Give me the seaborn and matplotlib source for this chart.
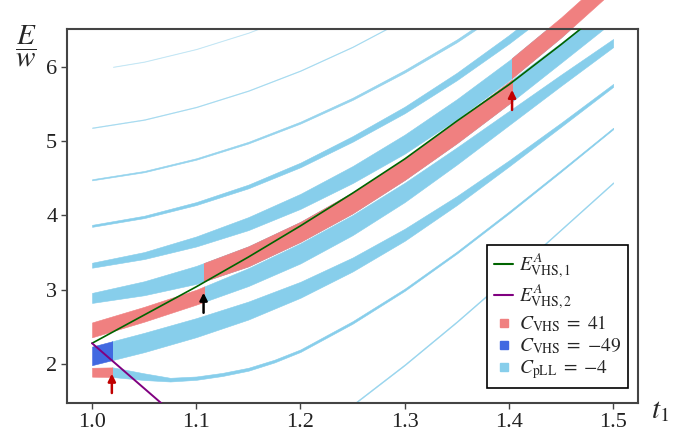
import numpy as np
import matplotlib
matplotlib.use("Agg")
import matplotlib.pyplot as plt
from matplotlib.patches import Rectangle
from matplotlib.lines import Line2D
import seaborn as sns

# ---- data (E/w against t1) ----
t_grid = [1.00, 1.05, 1.10, 1.15, 1.20, 1.25, 1.30, 1.35, 1.40, 1.45, 1.50]

# band centres and widths, top family first
top_t = [1.02, 1.05, 1.10, 1.15, 1.20]
top_c = [6.00, 6.07, 6.24, 6.46, 6.73]

a_c = [5.18, 5.29, 5.46, 5.68, 5.95, 6.27, 6.64]
b_c = [4.48, 4.59, 4.76, 4.98, 5.25, 5.57, 5.94, 6.35, 6.82]
b_w = [0.016, 0.018, 0.020, 0.023, 0.026, 0.030, 0.034, 0.038, 0.042]
c_c = [3.86, 3.98, 4.16, 4.39, 4.68, 5.03, 5.42, 5.87, 6.37, 6.91]
c_w = [0.027, 0.032, 0.040, 0.050, 0.062, 0.075, 0.088, 0.100, 0.115, 0.130]
d_c = [3.33, 3.46, 3.65, 3.89, 4.19, 4.55, 4.96, 5.43, 5.95, 6.53, 7.16]
d_w = [0.067, 0.094, 0.135, 0.175, 0.202, 0.229, 0.256, 0.269, 0.269, 0.269, 0.269]
e_c = [2.89, 3.02, 3.20, 3.45, 3.78, 4.17, 4.62, 5.12, 5.65, 6.19, 6.74]
e_w = [0.135, 0.188, 0.242, 0.269, 0.269, 0.283, 0.283, 0.296, 0.296, 0.269, 0.256]
f_c = [2.46, 2.67, 2.90, 3.17, 3.49, 3.87, 4.31, 4.80, 5.31, 5.82, 6.32]
f_w = [0.20, 0.20, 0.20, 0.24, 0.27, 0.27, 0.26, 0.23, 0.19, 0.15, 0.11]
g_c = [2.11, 2.29, 2.49, 2.72, 3.00, 3.34, 3.74, 4.20, 4.70, 5.22, 5.75]
g_w = [0.25, 0.26, 0.256, 0.242, 0.215, 0.188, 0.162, 0.121, 0.081, 0.054, 0.040]

h_t = [1.00, 1.02, 1.05, 1.075, 1.10, 1.125, 1.15, 1.175, 1.20, 1.25,
       1.30, 1.35, 1.40, 1.45, 1.50]
h_c = [1.89, 1.89, 1.83, 1.79, 1.81, 1.86, 1.93, 2.04, 2.18, 2.56,
       3.00, 3.50, 4.04, 4.60, 5.17]
h_w = [0.12, 0.13, 0.09, 0.05, 0.045, 0.042, 0.040, 0.037, 0.034, 0.034,
       0.030, 0.027, 0.027, 0.024, 0.020]

i_t = [1.25, 1.30, 1.35, 1.40, 1.45, 1.50]
i_c = [1.45, 1.99, 2.57, 3.18, 3.81, 4.44]

# VHS energies
green_t = [1.00, 1.05, 1.10, 1.15, 1.20, 1.25, 1.30, 1.35, 1.40, 1.45, 1.50]
green_e = [2.28, 2.66, 3.04, 3.44, 3.86, 4.30, 4.76, 5.27, 5.76, 6.30, 6.86]
purple_t = [1.00, 1.07]
purple_e = [2.28, 1.43]

# where the Chern colouring switches band
t_sw1, t_sw2, t_sw3 = 1.019, 1.107, 1.403

arrow_t = [1.019, 1.107, 1.403]
arrow_from = [1.61, 2.69, 5.42]
arrow_to = [1.87, 2.96, 5.69]
arrow_col = ["#C00000", "black", "#C00000"]

SKY = "#87CEEB"
CORAL = "#F08080"
ROYAL = "#4169E1"

sns.set_theme(style="white")
plt.rcParams["font.family"] = ["Liberation Serif", "DejaVu Serif"]
plt.rcParams["mathtext.fontset"] = "stix"

fig = plt.figure(figsize=(6.84, 4.32), dpi=100)
ax = fig.add_axes([0.098, 0.067, 0.835, 0.866])


def band(t, c, w, color, alpha=1.0, span=None, z=1):
    c = np.asarray(c, float)
    w = np.asarray(w, float) * np.ones_like(c)
    poly = ax.fill_between(t, c - w / 2, c + w / 2, color=color, lw=0.4,
                           alpha=alpha, zorder=z)
    if span is not None:
        rect = Rectangle((span[0], 0), span[1] - span[0], 10,
                         transform=ax.transData)
        poly.set_clip_path(rect)
    return poly


# light blue pLL bands
band(top_t, top_c, 0.008, SKY, alpha=0.35)
band(t_grid[:7], a_c, 0.010, SKY, alpha=0.6)
band(t_grid[:9], b_c, b_w, SKY, alpha=0.85)
band(t_grid[:10], c_c, c_w, SKY)
band(t_grid, d_c, d_w, SKY)
band(t_grid, e_c, e_w, SKY)
band(t_grid, f_c, f_w, SKY, span=(t_sw2, 2.0))
band(t_grid, g_c, g_w, SKY, span=(t_sw1, 2.0))
band(h_t, h_c, h_w, SKY, span=(t_sw1, 2.0))
band(i_t, i_c, 0.015, SKY, alpha=0.8)

# coloured VHS pieces
band(t_grid, f_c, f_w, CORAL, span=(1.0, t_sw2), z=2)
band(t_grid, e_c, e_w, CORAL, span=(t_sw2, t_sw3), z=2)
band(t_grid, d_c, d_w, CORAL, span=(t_sw3, 2.0), z=2)
band(h_t, h_c, h_w, CORAL, span=(1.0, t_sw1), z=2)
band(t_grid, g_c, g_w, ROYAL, span=(1.0, t_sw1), z=2)

sns.lineplot(x=green_t, y=green_e, color="darkgreen", lw=1.2, ax=ax,
             legend=False, zorder=5)
sns.lineplot(x=purple_t, y=purple_e, color="purple", lw=1.4, ax=ax,
             legend=False, zorder=5)

for t, y0, y1, col in zip(arrow_t, arrow_from, arrow_to, arrow_col):
    ax.annotate("", xy=(t, y1), xytext=(t, y0), zorder=6,
                arrowprops=dict(arrowstyle="-|>", color=col, lw=1.8,
                                mutation_scale=11, shrinkA=0, shrinkB=0))

ax.set_xlim(0.976, 1.524)
ax.set_ylim(1.475, 6.51)
ax.set_xticks([1.0, 1.1, 1.2, 1.3, 1.4, 1.5])
ax.set_xticklabels(["1.0", "1.1", "1.2", "1.3", "1.4", "1.5"])
ax.set_yticks([2, 3, 4, 5, 6])
ax.set_yticklabels(["2", "3", "4", "5", "6"])
ax.tick_params(bottom=True, left=True, direction="out", length=4, width=1,
               labelsize=16, color="#444444", labelcolor="#222222", pad=3)
for s in ax.spines.values():
    s.set_color("#444444")
    s.set_linewidth(1.5)

fig.text(0.965, 0.049, r"$t_1$", fontsize=21, ha="center", va="center")
fig.text(0.038, 0.893, r"$\dfrac{E}{w}$", fontsize=21, ha="center", va="center")

handles = [
    Line2D([], [], color="darkgreen", lw=1.5),
    Line2D([], [], color="purple", lw=1.5),
    Line2D([], [], marker="s", ls="none", color=CORAL, markersize=6),
    Line2D([], [], marker="s", ls="none", color=ROYAL, markersize=6),
    Line2D([], [], marker="s", ls="none", color=SKY, markersize=6),
]
labels = [
    r"$E^{A}_{\mathrm{VHS},1}$",
    r"$E^{A}_{\mathrm{VHS},2}$",
    r"$C_{\mathrm{VHS}}\;=\;41$",
    r"$C_{\mathrm{VHS}}\;=\;{-}49$",
    r"$C_{\mathrm{pLL}}\;=\;{-}4$",
]
leg = ax.legend(handles, labels, loc="lower right", bbox_to_anchor=(0.9825, 0.04),
                borderaxespad=0, fontsize=14, frameon=True, fancybox=False,
                edgecolor="black", framealpha=1, handlelength=1.0,
                handletextpad=0.3, labelspacing=0.12, borderpad=0.35)
leg.get_frame().set_linewidth(1.2)
leg.set_zorder(10)

fig.savefig("out.png", dpi=100)
